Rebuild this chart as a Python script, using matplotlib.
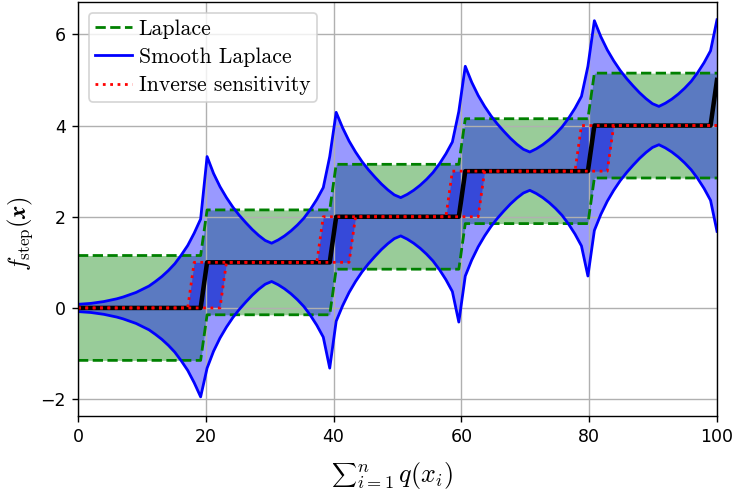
import matplotlib
matplotlib.use('Agg')
import matplotlib.pyplot as plt
import numpy as np

plt.rcParams['mathtext.fontset'] = 'cm'

# 100 samples of the sum between 0 and 100
x = np.linspace(0, 100, 100)

# step function values (the band centre keeps 4 at the last sample)
step_line = [0] * 20 + [1] * 20 + [2] * 20 + [3] * 20 + [4] * 19 + [5]
step_band = [0] * 20 + [1] * 20 + [2] * 20 + [3] * 20 + [4] * 20

# Laplace band half width
laplace_hw = 1.15

# smooth Laplace band half width, read per sample
smooth_hw = [
    0.08, 0.09, 0.10, 0.12, 0.14, 0.17, 0.20, 0.24, 0.29, 0.34,
    0.41, 0.48, 0.58, 0.69, 0.82, 0.97, 1.16, 1.37, 1.64, 1.95,
    2.32, 1.95, 1.66, 1.42, 1.21, 1.03, 0.87, 0.72, 0.59, 0.48,
    0.42, 0.49, 0.58, 0.69, 0.82, 0.97, 1.16, 1.38, 1.64, 2.32,
    2.29, 1.95, 1.66, 1.42, 1.21, 1.03, 0.87, 0.72, 0.59, 0.48,
    0.42, 0.49, 0.58, 0.69, 0.82, 0.97, 1.16, 1.38, 1.64, 2.31,
    2.30, 1.95, 1.66, 1.42, 1.21, 1.03, 0.87, 0.72, 0.59, 0.48,
    0.42, 0.49, 0.58, 0.69, 0.82, 0.97, 1.16, 1.38, 1.64, 2.30,
    2.30, 1.95, 1.66, 1.42, 1.21, 1.03, 0.87, 0.72, 0.59, 0.48,
    0.42, 0.49, 0.58, 0.69, 0.82, 0.97, 1.16, 1.38, 1.64, 2.32,
]

# inverse sensitivity band: step reached 2 samples early / 3 samples late
inv_hi = [0] * 18 + [1] * 20 + [2] * 20 + [3] * 20 + [4] * 22
inv_lo = [0] * 23 + [1] * 20 + [2] * 20 + [3] * 20 + [4] * 17

centre = np.array(step_band, dtype=float)
lap_hi = centre + laplace_hw
lap_lo = centre - laplace_hw
sm_hi = centre + np.array(smooth_hw)
sm_lo = centre - np.array(smooth_hw)

W, H = 736, 495
fig = plt.figure(figsize=(W / 125, H / 125), dpi=125)
ax = fig.add_axes([78 / W, 1 - 416 / H, 639 / W, 414 / H])

ax.fill_between(x, lap_lo, lap_hi, color='green', alpha=0.4, lw=0)
ax.fill_between(x, sm_lo, sm_hi, color='blue', alpha=0.4, lw=0)
ax.fill_between(x, inv_lo, inv_hi, color='blue', alpha=0.4, lw=0)

ax.plot(x, lap_hi, '--', color='green', lw=1.6, label='Laplace')
ax.plot(x, lap_lo, '--', color='green', lw=1.6)
ax.plot(x, sm_hi, '-', color='blue', lw=1.6, label='Smooth Laplace')
ax.plot(x, sm_lo, '-', color='blue', lw=1.6)
ax.plot(x, step_line, '-', color='black', lw=2.6)
ax.plot(x, inv_hi, ':', color='red', lw=1.6, label='Inverse sensitivity')
ax.plot(x, inv_lo, ':', color='red', lw=1.6)

ax.set_xlim(0, 100)
ax.set_ylim(-2.37, 6.71)
ax.set_xticks([0, 20, 40, 60, 80, 100])
ax.set_yticks([-2, 0, 2, 4, 6])
ax.grid(True)
ax.set_ylabel(r'$f_{\mathrm{step}}(\boldsymbol{x})$', fontsize=14)
ax.yaxis.set_label_coords(-0.067, 0.44)
ax.legend(loc='upper left', prop={'family': 'cmr10', 'size': 12.5},
          handlelength=1.7, handletextpad=0.3, labelspacing=0.4,
          borderpad=0.3)

# x label: text-size sum sign, then limits and summand
fig.text(331 / W, 1 - 475 / H, r'$\sum$', fontsize=10, ha='left', va='center')
fig.text(356 / W, 1 - 482 / H, r'${}_{i=1}^{n}\,q(x_i)$', fontsize=15,
         ha='left', va='baseline')

plt.savefig('out.png')
